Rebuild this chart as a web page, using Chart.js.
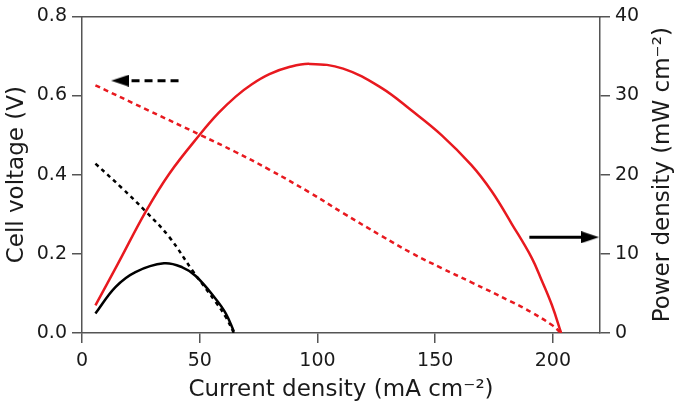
<!DOCTYPE html>
<html>
<head>
<meta charset="utf-8">
<script src="https://cdn.jsdelivr.net/npm/chart.js@4"></script>
<style>
  body { margin: 0; background: #fff; }
  #wrap { width: 685px; height: 410px; }
</style>
</head>
<body>
<div id="wrap"><canvas id="myChart" width="685" height="410"></canvas></div>
<script>
// red cell: voltage (left axis) and power (right axis)
const redVCurrent = [5.7, 28.4, 50.4, 65, 79.5, 96.7, 110.9, 127, 140, 152.7, 165.4, 182, 191, 199.6, 203.5];
const redVoltage = [0.626, 0.562, 0.500, 0.458, 0.413, 0.355, 0.303, 0.246, 0.202, 0.164, 0.128, 0.080, 0.052, 0.020, 0];
const redPCurrent = [5.7, 15, 27, 37, 50.4, 58, 65.4, 72, 79.6, 88, 96.7, 110.9, 127, 140, 152.7, 165.4, 174, 182.5, 191, 195.3, 199.6, 203.5];
const redPower = [3.5, 8.6, 15.3, 20.1, 25.2, 27.8, 29.9, 31.4, 32.7, 33.6, 34.0, 33.4, 31.0, 28.1, 25.0, 21.2, 17.9, 13.8, 9.5, 6.6, 3.5, 0];

// black cell
const blackVCurrent = [5.7, 17, 27, 37, 46.9, 56.8, 61.1, 64.5];
const blackVoltage = [0.428, 0.366, 0.3075, 0.243, 0.158, 0.078, 0.040, 0];
const blackPCurrent = [5.7, 14.2, 22.7, 34.8, 42.6, 48.3, 56.8, 61.1, 64.5];
const blackPower = [2.46, 5.8, 7.7, 8.8, 8.3, 7.2, 4.3, 2.46, 0.2];

// arrows: [tail, head] in data units
const leftArrowX = [41, 16.2];
const leftArrowY = [0.6375, 0.6375];
const rightArrowX = [190, 215.8];
const rightArrowY = [12.1, 12.1];

const xTicks = [0, 50, 100, 150, 200];
const vTicks = [0, 0.2, 0.4, 0.6, 0.8];
const pTicks = [0, 10, 20, 30, 40];

const RED = '#e8191f';
const AXIS = '#555';
const TEXT = '#1a1a1a';
const FONT = '"DejaVu Sans", sans-serif';

function pts(xs, ys) {
  return xs.map((x, i) => ({x: x, y: ys[i]}));
}

// arrowhead image, pointing right
function arrowHead() {
  const c = document.createElement('canvas');
  c.width = 18; c.height = 12;
  const g = c.getContext('2d');
  g.fillStyle = '#000';
  g.beginPath();
  g.moveTo(0, 0);
  g.lineTo(18, 6);
  g.lineTo(0, 12);
  g.closePath();
  g.fill();
  return c;
}
const head = arrowHead();

const rightTitle = {
  id: 'rightTitle',
  afterDraw(chart) {
    const {ctx, chartArea, scales} = chart;
    ctx.save();
    ctx.translate(scales.y2.right - 22, (chartArea.top + chartArea.bottom) / 2);
    ctx.rotate(-Math.PI / 2);
    ctx.font = '23px ' + FONT;
    ctx.textAlign = 'center';
    ctx.textBaseline = 'middle';
    ctx.fillStyle = TEXT;
    ctx.fillText('Power density (mW cm\u207B\u00B2)', 0, 0);
    ctx.restore();
  }
};

function line(data, color, axis, dash) {
  return {
    data: data,
    yAxisID: axis,
    borderColor: color,
    borderWidth: 2.5,
    borderDash: dash || [],
    pointRadius: 0,
    tension: 0.4,
    fill: false
  };
}

function arrow(data, axis, dash) {
  return {
    data: data,
    yAxisID: axis,
    borderColor: '#000',
    borderWidth: 3,
    borderDash: dash || [],
    pointRadius: [0, 9],
    pointStyle: head,
    pointRotation: dash ? 180 : 0,
    tension: 0,
    fill: false
  };
}

function tickAxis(min, max, ticks, position, fmt) {
  return {
    type: 'linear',
    position: position,
    min: min,
    max: max,
    afterBuildTicks: s => { s.ticks = ticks.map(v => ({value: v})); },
    ticks: {
      color: TEXT,
      font: {family: FONT, size: 19},
      padding: 5,
      callback: fmt
    },
    grid: {drawOnChartArea: false, color: AXIS, lineWidth: 1.5, tickLength: 10},
    border: {color: AXIS, width: 1.5}
  };
}

const x = tickAxis(0, 220, xTicks, 'bottom', v => v);
x.ticks.padding = 7;
x.title = {display: true, text: 'Current density (mA cm\u207B\u00B2)', color: TEXT,
  font: {family: FONT, size: 23}, padding: {top: 0, bottom: 6}};
x.afterFit = s => { s.height = 77; };

const y = tickAxis(0, 0.8, vTicks, 'left', v => v.toFixed(1));
y.title = {display: true, text: 'Cell voltage (V)', color: TEXT,
  font: {family: FONT, size: 23}, padding: {top: 3, bottom: 0}};
y.afterFit = s => { s.width = 82; };

const y2 = tickAxis(0, 40, pTicks, 'right', v => v);
y2.afterFit = s => { s.width = 85; };

const x2 = {
  type: 'linear', position: 'top', axis: 'x', min: 0, max: 220,
  ticks: {display: false},
  grid: {display: false, drawTicks: false, tickLength: 0},
  border: {color: AXIS, width: 1.5},
  afterFit: s => { s.height = 0; }
};

new Chart(document.getElementById('myChart'), {
  type: 'line',
  data: {
    datasets: [
      line(pts(redPCurrent, redPower), RED, 'y2'),
      line(pts(redVCurrent, redVoltage), RED, 'y', [5, 4]),
      line(pts(blackPCurrent, blackPower), '#000', 'y2'),
      line(pts(blackVCurrent, blackVoltage), '#000', 'y', [4, 4]),
      arrow(pts(leftArrowX, leftArrowY), 'y', [8, 5]),
      arrow(pts(rightArrowX, rightArrowY), 'y2')
    ]
  },
  options: {
    responsive: false,
    animation: false,
    layout: {padding: {top: 13, left: 0, right: 0, bottom: 0}},
    plugins: {legend: {display: false}, tooltip: {enabled: false}},
    scales: {x: x, x2: x2, y: y, y2: y2}
  },
  plugins: [rightTitle]
});
</script>
</body>
</html>
